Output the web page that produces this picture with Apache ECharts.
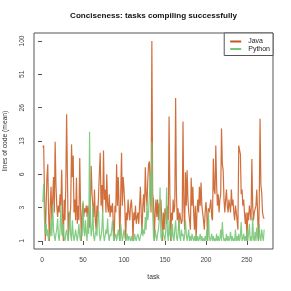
<!DOCTYPE html>
<html><head><meta charset="utf-8">
<script src="https://cdn.jsdelivr.net/npm/echarts@6/dist/echarts.min.js"></script>
<style>html,body{margin:0;padding:0;background:#fff}#c{width:291px;height:291px}</style>
</head><body><div id="c"></div>
<script>
const seriesNames = ['Java', 'Python'];
const yTickLabels = ['1', '3', '6', '13', '26', '51', '100'];
const xTicks = [0, 50, 100, 150, 200, 250];
const javaLoc = [
 11.5, 12, 4, 1, 3, 6, 8, 2.5, 1, 3,
 4.8, 2, 3.5, 6, 2.5, 13, 5, 3, 2.2, 3,
 2.5, 4, 3, 7.1, 2.5, 1, 3.5, 2, 5, 23,
 6, 1, 2.5, 2, 3, 12.3, 6, 9.7, 2.5, 3.5,
 2, 5.9, 1.8, 3, 2, 9.2, 3, 1, 2.5, 3.2,
 2.2, 2.8, 2.5, 3, 2.2, 3, 2.5, 1.6, 3.5, 7.7,
 4, 3, 2.2, 4.5, 2, 1.5, 3, 2.2, 4, 6.7,
 10.3, 3, 5, 2.5, 10.8, 3.5, 4.5, 2.5, 6.4, 3,
 2.5, 4, 2.2, 3, 2.5, 3.2, 1.8, 1, 3, 2.5,
 8, 3, 6, 3, 1, 4, 10.3, 3, 6, 4.5,
 3, 1, 2.5, 2, 3.5, 2.5, 2, 3, 3.5, 2.5,
 1, 2.5, 2, 3, 1.8, 2.2, 2.5, 1.8, 3, 4.8,
 2.5, 1.3, 3, 4, 2.5, 7.5, 4, 3, 5.5, 8,
 8.5, 5, 2.5, 100, 4, 3.5, 1, 2.5, 3.5, 2.2,
 3.5, 2, 3.2, 2.5, 3.5, 2.2, 1, 2.5, 1.5, 2.8,
 2.5, 1.8, 3, 2, 22, 4, 1, 2.5, 2, 3.5,
 2.5, 3, 32, 4, 2, 2.8, 1.5, 2.5, 2.5, 1.8,
 2, 19.8, 3, 1.5, 6.7, 3, 7, 3.5, 2.5, 2,
 1.5, 5.9, 3, 4.8, 2.5, 1.5, 3, 1, 2.5, 3.5,
 2.5, 4.8, 3, 5.3, 3, 2.5, 2, 1.5, 2.5, 3.3,
 2.5, 1, 2.8, 2.5, 3, 3.5, 2.2, 2, 9.1, 4.5,
 4, 12, 5, 3, 4, 2.5, 3.5, 4, 17.2, 8,
 7, 3.5, 2.5, 3.5, 4.5, 3, 2.5, 3.5, 3.5, 2.5,
 4.5, 3, 3.5, 2.5, 2, 3, 2.5, 2, 1.5, 12,
 12.3, 10, 4, 4.5, 3, 3.5, 2.5, 1.8, 2.5, 1,
 2.5, 2, 3, 2.5, 2, 9, 3, 2, 2.5, 2.5,
 3, 4.5, 2.5, 1, 3, 21, 5, 4.2, 2.5, 2.2,
 2.1
];
const pythonLoc = [
 3.3, 5.1, 2, 1.3, 1.8, 1.2, 1.5, 1, 1.3, 1.2,
 2, 1.2, 3.1, 1.5, 1.2, 1, 1.3, 1.5, 2.1, 1.2,
 1, 1.5, 3.1, 1.3, 1.2, 1.8, 1.1, 1, 1.3, 1.5,
 1.2, 1, 1.5, 2.6, 1.2, 1, 2, 1.3, 1, 1.2,
 1.5, 1.2, 1, 1.3, 1.8, 1.2, 1, 1.5, 1.2, 3.4,
 1.5, 1.2, 2, 1.3, 1, 2.5, 1.3, 16, 2, 1.2,
 1.5, 3, 1.2, 1, 1.3, 1.5, 1.2, 2.2, 2.6, 1.3,
 1, 1.2, 1.5, 2.7, 1.3, 1, 1.2, 1.5, 1.3, 2.1,
 1.2, 1, 1.3, 1.2, 1.5, 2, 1.2, 1, 1.2, 1.3,
 1, 1.2, 1.5, 1.2, 1, 1.8, 1.3, 1, 1.2, 1.5,
 1.2, 1, 1.1, 1.3, 1, 1.2, 1.1, 1, 1.2, 1,
 1.1, 1, 1.3, 1.1, 1, 1.2, 1.3, 1.1, 1, 1.2,
 1.3, 1.7, 1.2, 1.5, 1.3, 2.2, 1.5, 3.3, 2, 2.5,
 4, 6.4, 3, 13, 2.5, 1.2, 1, 1.5, 1.2, 1,
 1.3, 1.5, 2, 4.7, 1.2, 1, 1.5, 1.3, 1.2, 1,
 1.5, 4.7, 1.3, 1, 2, 1.2, 1.5, 1, 1.8, 1.2,
 1, 1.5, 2, 1.2, 1, 1.3, 2.1, 1.2, 1, 1.5,
 1.2, 1.3, 1, 1.2, 2, 1.3, 1, 1.2, 1.5, 1,
 1.2, 1, 1.3, 1.1, 1, 1.2, 1, 1.3, 1, 1.2,
 1, 1.1, 1.3, 1, 1.2, 1, 1.1, 1, 1.2, 1,
 1.5, 1, 2.6, 1.2, 1, 1.1, 1.3, 1, 1.2, 1,
 1.1, 1, 1.3, 1, 1.2, 1, 1.1, 1.5, 1, 1.9,
 1.2, 1, 1.1, 1, 1.3, 1, 1.2, 1, 1.1, 1.4,
 1, 1.2, 1, 1.1, 1, 1.5, 1, 1.2, 1, 1.3,
 1, 1.2, 1.9, 1, 1.1, 1.3, 1, 1.2, 1, 1.5,
 1, 1.3, 1.8, 1, 1.2, 1, 2.2, 1.1, 1, 1.4,
 1, 1.6, 1.2, 1, 1.8, 1.1, 1, 1.5, 1.2, 1,
 1.5
];
// axis scale: log(v+1), ticks equally spaced (1 ... 100)
const L0 = Math.log(2), L1 = Math.log(101);
function tr(v) { return 6 * (Math.log(v + 1) - L0) / (L1 - L0); }
const toData = arr => arr.map((v, i) => [i + 1, tr(v)]);
const n = javaLoc.length;
const xPad = 0.04 * (n - 1);
const chart = echarts.init(document.getElementById('c'), null, {renderer: 'canvas'});
const font = 'Liberation Sans, Arial, Helvetica, sans-serif';
chart.setOption({
  animation: false,
  textStyle: {fontFamily: font},
  title: {
    text: 'Conciseness: tasks compiling successfully',
    left: 153.5, textAlign: 'center', top: 12, padding: 0,
    textStyle: {fontSize: 8.1, fontWeight: 'bold', color: '#111', fontFamily: font}
  },
  grid: {left: 34, right: 18, top: 33, bottom: 42, show: true, borderColor: '#555', borderWidth: 1,
         containLabel: false, outerBoundsMode: 'none'},
  legend: {
    data: seriesNames, orient: 'vertical', right: 18, top: 33,
    backgroundColor: '#fff', borderColor: '#555', borderWidth: 1, borderRadius: 0,
    padding: [5, 3, 3, 6], itemGap: 0.5, itemWidth: 11, itemHeight: 2, icon: 'rect',
    textStyle: {fontSize: 7, color: '#222', fontFamily: font, padding: [0, 0, 0, 2]}
  },
  xAxis: {
    type: 'value', min: 1 - xPad, max: n + xPad,
    name: 'task', nameLocation: 'middle', nameGap: 24.5,
    nameTextStyle: {fontSize: 6.7, color: '#333', fontFamily: font},
    splitLine: {show: false},
    axisLine: {show: false},
    axisTick: {show: true, inside: false, length: 4, lineStyle: {color: '#555'}, customValues: xTicks},
    axisLabel: {fontSize: 6.7, color: '#444', margin: 8, customValues: xTicks, formatter: v => String(v)}
  },
  yAxis: {
    type: 'value', min: -0.24, max: 6.24,
    name: 'lines of code (mean)', nameLocation: 'middle', nameGap: 25.5,
    nameTextStyle: {fontSize: 6.7, color: '#333', fontFamily: font},
    splitLine: {show: false},
    axisLine: {show: false},
    axisTick: {show: true, inside: false, length: 4, lineStyle: {color: '#555'}, customValues: [0, 1, 2, 3, 4, 5, 6]},
    axisLabel: {fontSize: 6.7, color: '#444', margin: 8, rotate: 90, customValues: [0, 1, 2, 3, 4, 5, 6],
      formatter: v => yTickLabels[Math.round(v)]}
  },
  series: [
    {name: seriesNames[0], type: 'line', data: toData(javaLoc), showSymbol: false, color: '#c9561a',
     lineStyle: {width: 1.2, color: '#c9561a', opacity: 0.85}},
    {name: seriesNames[1], type: 'line', data: toData(pythonLoc), showSymbol: false, color: '#77c777',
     lineStyle: {width: 1.2, color: '#77c777', opacity: 0.9}}
  ]
});
</script></body></html>
